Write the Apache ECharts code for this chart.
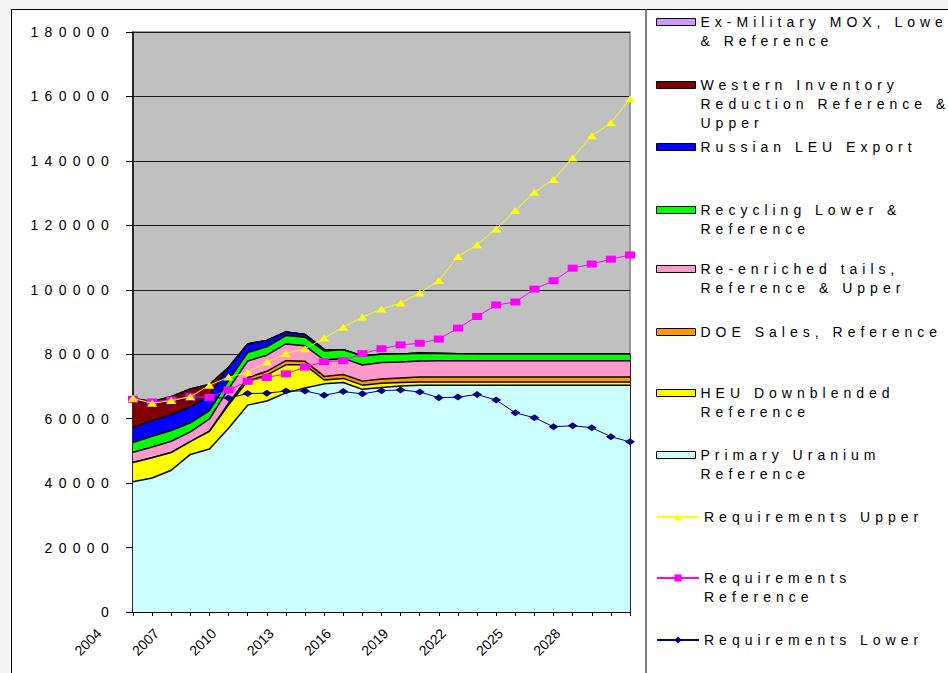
<!DOCTYPE html>
<html>
<head>
<meta charset="utf-8">
<script src="https://cdn.jsdelivr.net/npm/echarts@6/dist/echarts.min.js"></script>
<style>
  html, body { margin: 0; padding: 0; background: #fff; }
  #main { width: 948px; height: 673px; }
  /* Excel export look: widely spaced lettering on y labels and legend */
  #main text[style*="sans-serif"] { letter-spacing: 6.3px; }
  #main text[style*="Arial"] { letter-spacing: 5px; }
</style>
</head>
<body>
<div id="main"></div>
<script>
// categories
const years = ['2004', '2005', '2006', '2007', '2008', '2009', '2010', '2011', '2012', '2013',
  '2014', '2015', '2016', '2017', '2018', '2019', '2020', '2021', '2022', '2023',
  '2024', '2025', '2026', '2027', '2028', '2029', '2030'];

// supply layers (tU), bottom of the stack first
const primary = [40400, 41600, 44000, 48900, 50600, 57000, 64200, 65500, 68000, 69500,
  70800, 71200, 69100, 69700, 70100, 70400, 70400, 70400, 70400, 70400,
  70400, 70400, 70400, 70400, 70400, 70400, 70400];
const heu = [6000, 6300, 5500, 4000, 5500, 7300, 7500, 8000, 8700, 7200,
  1200, 1300, 1300, 1300, 1100, 1000, 1000, 1000, 1000, 1000,
  1000, 1000, 1000, 1000, 1000, 1000, 1000];
const doe = [0, 0, 0, 0, 0, 500, 1000, 1200, 1300, 1100,
  1100, 1200, 1250, 1300, 1400, 1500, 1500, 1500, 1500, 1500,
  1500, 1500, 1500, 1500, 1500, 1500, 1500];
const tails = [3200, 3300, 3500, 3000, 3800, 4500, 5200, 5000, 5200, 4800,
  5100, 5000, 5000, 5100, 5000, 5000, 5050, 5050, 5050, 5050,
  5050, 5050, 5050, 5050, 5050, 5050, 5050];
const recycling = [3000, 3300, 3300, 2800, 2600, 2600, 2600, 2600, 2600, 2700,
  2800, 2700, 2800, 2600, 2500, 2400, 2300, 2200, 2150, 2150,
  2150, 2150, 2150, 2150, 2150, 2150, 2150];
const russianLeu = [4600, 4900, 4900, 4900, 4800, 4000, 2700, 2000, 1100, 800,
  500, 0, 0, 0, 0, 0, 0, 0, 0, 0,
  0, 0, 0, 0, 0, 0, 0];
const westernInv = [9100, 5900, 5600, 5600, 3300, 0, 0, 0, 0, 0,
  0, 0, 0, 0, 0, 0, 0, 0, 0, 0,
  0, 0, 0, 0, 0, 0, 0];
const mox = [0, 0, 0, 0, 0, 0, 0, 0, 0, 0,
  0, 0, 0, 0, 0, 0, 0, 0, 0, 0,
  0, 0, 0, 0, 0, 0, 0];

// requirements (tU)
const reqUpper = [66300, 64800, 65600, 66800, 70400, 72900, 74300, 77600, 80200, 81700,
  85000, 88400, 91500, 94000, 95900, 99000, 102900, 110300, 114000, 118900,
  124600, 130300, 134200, 140900, 147800, 151800, 159200];
const reqReference = [66000, 65200, 65800, 66800, 66600, 68900, 71600, 72800, 73900, 76000,
  77700, 78000, 80200, 81700, 82900, 83400, 84700, 88100, 91700, 95300,
  96200, 100200, 102800, 106700, 108000, 109500, 110800];
const reqLower = [65800, 64500, 65300, 66200, 66500, 66400, 67800, 67900, 68600, 68600,
  67300, 68400, 67700, 68700, 68900, 68300, 66500, 66700, 67500, 65800,
  61800, 60300, 57500, 57800, 57200, 54400, 52800];

const areaDefs = [
  { name: 'Primary Uranium Reference', data: primary, color: '#CCFFFF' },
  { name: 'HEU Downblended Reference', data: heu, color: '#FFFF00' },
  { name: 'DOE Sales, Reference', data: doe, color: '#FF9900' },
  { name: 'Re-enriched tails, Reference & Upper', data: tails, color: '#FF99CC' },
  { name: 'Recycling Lower & Reference', data: recycling, color: '#00FF00' },
  { name: 'Russian LEU Export', data: russianLeu, color: '#0000FF' },
  { name: 'Western Inventory Reduction Reference & Upper', data: westernInv, color: '#800000' },
  { name: 'Ex-Military MOX, Lower & Reference', data: mox, color: '#CC99FF' }
];

// legend text, top to bottom, as wrapped in the original
const legendLabels = {
  'Ex-Military MOX, Lower & Reference': 'Ex-Military MOX, Lower\n& Reference',
  'Western Inventory Reduction Reference & Upper': 'Western Inventory\nReduction Reference &\nUpper',
  'Russian LEU Export': 'Russian LEU Export',
  'Recycling Lower & Reference': 'Recycling Lower &\nReference',
  'Re-enriched tails, Reference & Upper': 'Re-enriched tails,\nReference & Upper',
  'DOE Sales, Reference': 'DOE Sales, Reference',
  'HEU Downblended Reference': 'HEU Downblended\nReference',
  'Primary Uranium Reference': 'Primary Uranium\nReference',
  'Requirements Upper': 'Requirements Upper',
  'Requirements Reference': 'Requirements\nReference',
  'Requirements Lower': 'Requirements Lower'
};
const legendOrder = Object.keys(legendLabels);
// centre of the first text line of each legend entry
const legendY = [22, 85, 147, 210, 269, 332, 393, 455, 517, 578, 640];

const LH = 19;
const lastIdx = years.length - 1;
const stackTop = areaDefs.reduce((s, d) => s + d.data[lastIdx], 0);

const series = areaDefs.map((d, k) => ({
  name: d.name,
  type: 'line',
  stack: 'supply',
  data: d.data,
  symbol: 'none',
  z: 10 - k,
  silent: true,
  lineStyle: { color: '#000', width: 1.5 },
  itemStyle: { color: d.color },
  areaStyle: { color: d.color, opacity: 1 },
  emphasis: { disabled: true }
}));
// right edge of the area block
series[series.length - 1].markLine = {
  silent: true,
  symbol: 'none',
  label: { show: false },
  lineStyle: { color: '#000', width: 1.5, type: 'solid' },
  data: [[{ coord: [years[lastIdx], 0] }, { coord: [years[lastIdx], stackTop] }]]
};

series.push(
  {
    name: 'Requirements Lower', type: 'line', data: reqLower, z: 20,
    symbol: 'diamond', symbolSize: [10, 7],
    lineStyle: { color: '#000080', width: 1 }, itemStyle: { color: '#000080' },
    emphasis: { disabled: true }
  },
  {
    name: 'Requirements Reference', type: 'line', data: reqReference, z: 21,
    symbol: 'rect', symbolSize: [10, 7],
    lineStyle: { color: '#FF00FF', width: 1 }, itemStyle: { color: '#FF00FF' },
    emphasis: { disabled: true }
  },
  {
    name: 'Requirements Upper', type: 'line', data: reqUpper, z: 22,
    symbol: 'triangle', symbolSize: [10, 7],
    lineStyle: { color: '#FFFF00', width: 1 }, itemStyle: { color: '#FFFF00' },
    emphasis: { disabled: true }
  }
);

const colorOf = {};
areaDefs.forEach(d => { colorOf[d.name] = d.color; });

// one legend block per entry; blank lines on top keep the swatch level with the first text line
const legends = legendOrder.map((name, k) => {
  const label = legendLabels[name];
  const lines = label.split('\n').length;
  const isArea = colorOf[name] !== undefined;
  return {
    left: 656,
    top: legendY[k] - (2 * lines - 1) * LH / 2,
    padding: 0,
    selectedMode: false,
    itemWidth: isArea ? 39 : 42,
    itemHeight: isArea ? 7 : 9,
    formatter: () => '\n'.repeat(lines - 1) + label,
    textStyle: {
      fontFamily: 'Liberation Sans, Arial',
      fontSize: 14,
      color: '#000',
      lineHeight: LH
    },
    data: [isArea
      ? { name: name, icon: 'rect', itemStyle: { color: colorOf[name], borderColor: '#000', borderWidth: 1 } }
      : { name: name }]
  };
});

const myChart = echarts.init(document.getElementById('main'), null, { renderer: 'svg' });
const option = {
  animation: false,
  backgroundColor: '#f3f3f3',
  graphic: [
    {
      type: 'rect', z: -100, silent: true,
      shape: { x: 11.5, y: 9.5, width: 960, height: 700 },
      style: { fill: '#fff', stroke: '#000', lineWidth: 1 }
    },
    {
      type: 'line', z: -99, silent: true,
      shape: { x1: 646, y1: 9.5, x2: 646, y2: 700 },
      style: { stroke: '#7f7f7f', lineWidth: 2 }
    }
  ],
  grid: {
    left: 133, top: 32, width: 497, height: 580,
    show: true,
    backgroundColor: '#C0C0C0',
    borderColor: '#808080',
    borderWidth: 1.5
  },
  legend: legends,
  xAxis: {
    type: 'category',
    data: years,
    boundaryGap: false,
    axisLine: { lineStyle: { color: '#000', width: 1.5 } },
    axisTick: { interval: 0, length: 4, lineStyle: { color: '#000' } },
    axisLabel: {
      interval: 2,
      rotate: 45,
      fontSize: 14,
      color: '#000',
      fontFamily: 'Liberation Sans',
      margin: -15,
      padding: [0, 48, 0, 0]
    },
    splitLine: { show: false }
  },
  yAxis: {
    type: 'value',
    min: 0,
    max: 180000,
    interval: 20000,
    axisLine: { show: true, lineStyle: { color: '#000', width: 1.5 } },
    axisTick: { show: true, length: 7, lineStyle: { color: '#000' } },
    axisLabel: {
      color: '#000',
      fontSize: 14,
      fontFamily: 'Liberation Sans, sans-serif',
      margin: 18,
      formatter: v => String(v)
    },
    splitLine: { lineStyle: { color: '#1a1a1a', width: 1 } }
  },
  series: series
};
myChart.setOption(option);
</script>
</body>
</html>
